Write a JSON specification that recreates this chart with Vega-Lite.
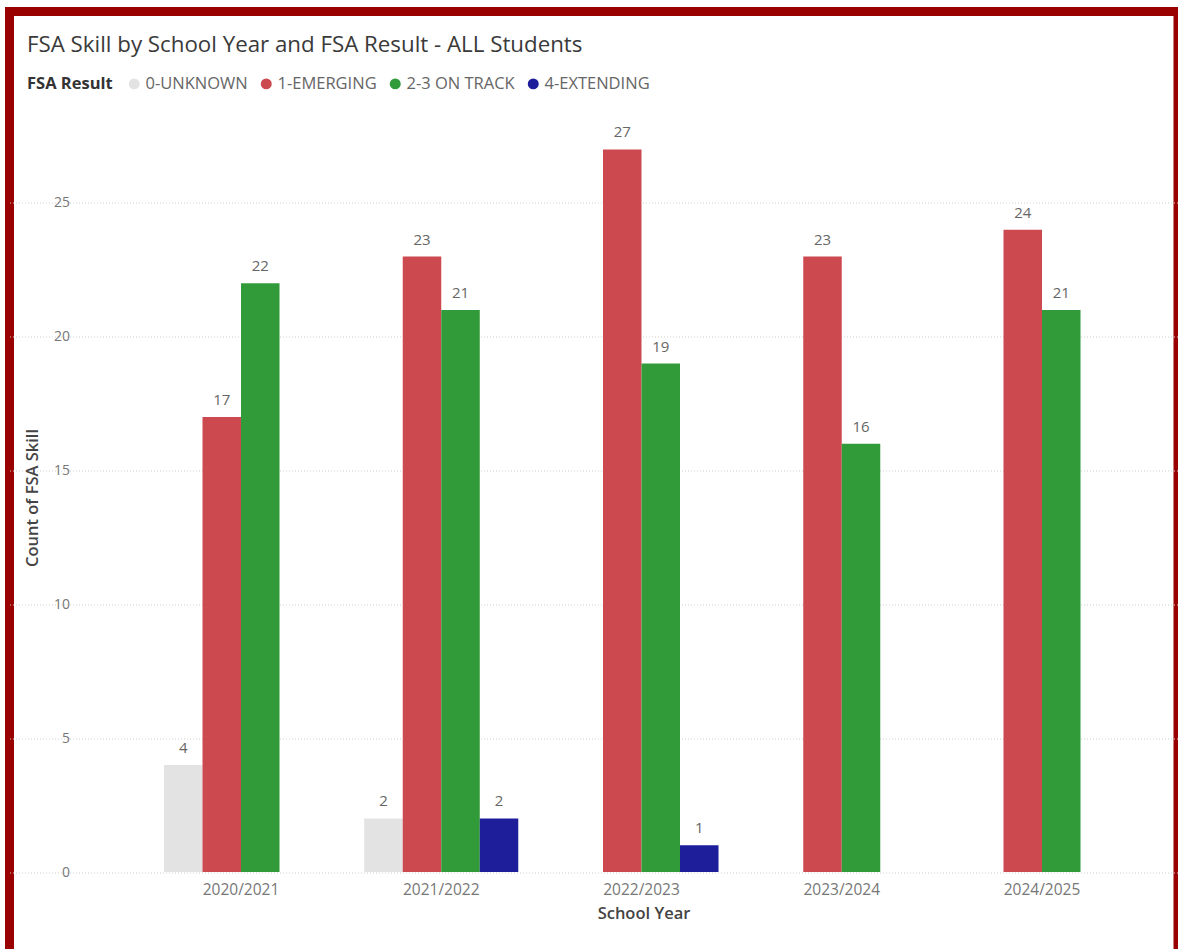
{
  "$schema": "https://vega.github.io/schema/vega-lite/v6.json",
  "width": 1168.5,
  "height": 937.5,
  "autosize": {"type": "none"},
  "padding": {"left": 9.5, "top": 11.5, "right": 0, "bottom": 0},
  "background": "white",
  "title": {
    "text": "FSA Skill by School Year and FSA Result - ALL Students",
    "anchor": "start",
    "orient": "top",
    "offset": -45,
    "dx": 17.5,
    "font": "Open Sans",
    "fontSize": 22.3,
    "fontWeight": "normal",
    "color": "#3a3a3a"
  },
  "data": {
    "values": [
      {"year": "2020/2021", "result": "0-UNKNOWN", "count": 4},
      {"year": "2020/2021", "result": "1-EMERGING", "count": 17},
      {"year": "2020/2021", "result": "2-3 ON TRACK", "count": 22},
      {"year": "2021/2022", "result": "0-UNKNOWN", "count": 2},
      {"year": "2021/2022", "result": "1-EMERGING", "count": 23},
      {"year": "2021/2022", "result": "2-3 ON TRACK", "count": 21},
      {"year": "2021/2022", "result": "4-EXTENDING", "count": 2},
      {"year": "2022/2023", "result": "1-EMERGING", "count": 27},
      {"year": "2022/2023", "result": "2-3 ON TRACK", "count": 19},
      {"year": "2022/2023", "result": "4-EXTENDING", "count": 1},
      {"year": "2023/2024", "result": "1-EMERGING", "count": 23},
      {"year": "2023/2024", "result": "2-3 ON TRACK", "count": 16},
      {"year": "2024/2025", "result": "1-EMERGING", "count": 24},
      {"year": "2024/2025", "result": "2-3 ON TRACK", "count": 21}
    ]
  },
  "encoding": {
    "x": {
      "field": "year",
      "type": "nominal",
      "sort": null,
      "scale": {"paddingInner": 0.2308, "paddingOuter": 0.533, "align": 0.7237},
      "axis": {
        "title": "School Year",
        "labelAngle": 0,
        "offset": -67,
        "ticks": false,
        "tickSize": 0,
        "domain": false,
        "grid": false,
        "labelPadding": 0,
        "labelFont": "Open Sans",
        "labelFontSize": 15.5,
        "labelColor": "#777777",
        "titleFont": "Open Sans",
        "titleFontSize": 16.5,
        "titleFontWeight": 600,
        "titleColor": "#444444",
        "titlePadding": 8,
        "titleX": 634
      }
    },
    "xOffset": {
      "field": "result",
      "type": "nominal",
      "scale": {"domain": ["0-UNKNOWN", "1-EMERGING", "2-3 ON TRACK", "4-EXTENDING"], "paddingInner": 0, "paddingOuter": 0}
    },
    "y": {
      "field": "count",
      "type": "quantitative",
      "scale": {"domain": [-2.877, 32.156], "nice": false, "zero": false},
      "axis": {
        "values": [0, 5, 10, 15, 20, 25],
        "title": "Count of FSA Skill",
        "offset": -62,
        "ticks": false,
        "tickSize": 0,
        "domain": false,
        "grid": true,
        "gridColor": "#cfcfcf",
        "gridDash": [1, 2],
        "gridWidth": 1,
        "labelPadding": 2,
        "labelFont": "Open Sans",
        "labelFontSize": 14,
        "labelColor": "#777777",
        "titleFont": "Open Sans",
        "titleFontSize": 16.5,
        "titleFontWeight": 600,
        "titleColor": "#444444",
        "titlePadding": 13,
        "titleY": 486
      }
    }
  },
  "layer": [
    {
      "mark": {"type": "bar"},
      "encoding": {
        "color": {
          "field": "result",
          "type": "nominal",
          "scale": {
            "domain": ["0-UNKNOWN", "1-EMERGING", "2-3 ON TRACK", "4-EXTENDING"],
            "range": ["#e3e3e3", "#cd4950", "#309b38", "#1e1e9b"]
          },
          "legend": {
            "orient": "none",
            "legendX": 17.5,
            "legendY": 64,
            "direction": "horizontal",
            "title": "FSA Result",
            "titleOrient": "left",
            "symbolType": "circle",
            "symbolSize": 120,
            "symbolStrokeWidth": 0,
            "labelFont": "Open Sans",
            "labelFontSize": 16.5,
            "labelColor": "#666666",
            "titleFont": "Open Sans",
            "titleFontSize": 16.5,
            "titleFontWeight": "bold",
            "titleColor": "#333333",
            "columnPadding": 10,
            "labelOffset": 3,
            "titlePadding": 13
          }
        }
      }
    },
    {
      "mark": {"type": "text", "baseline": "alphabetic", "dy": -12, "font": "Open Sans", "fontSize": 15, "color": "#666666"},
      "encoding": {"text": {"field": "count", "type": "quantitative"}}
    }
  ],
  "config": {
    "view": {
      "stroke": "#990000",
      "strokeWidth": 9,
      "strokeDash": [2106, 1168.5, 1000, 0],
      "strokeCap": "square",
      "fill": "white"
    }
  }
}
